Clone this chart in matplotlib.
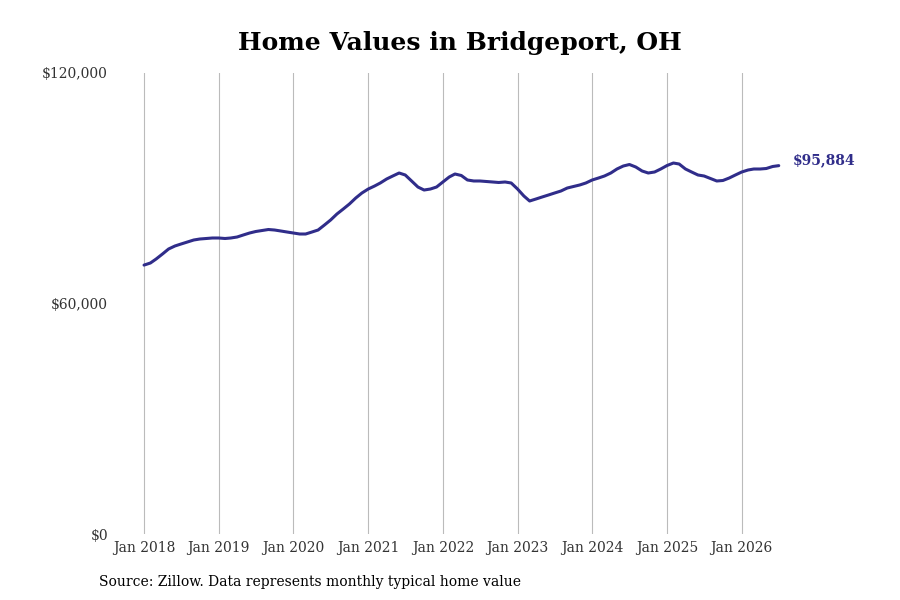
import pandas as pd
import matplotlib.pyplot as plt
import matplotlib.dates as mdates

plt.rcParams['font.family'] = ['DejaVu Serif']

# Monthly typical home value, Jan 2018 - Jul 2026
months = pd.date_range('2018-01-01', '2026-07-01', freq='MS')
values = [
    70000, 70540, 71580, 72880, 74190, 74970, 75490, 76010, 76530, 76790, 76920, 77050,
    77050, 76920, 77050, 77310, 77830, 78350, 78740, 79000, 79260, 79130, 78870, 78610,
    78350, 78090, 78090, 78610, 79130, 80430, 81730, 83300, 84600, 85900, 87460, 88760,
    89800, 90580, 91370, 92410, 93190, 93970, 93450, 91890, 90320, 89540, 89800, 90320,
    91630, 92930, 93710, 93320, 92150, 91890, 91890, 91760, 91630, 91500, 91630, 91370,
    89800, 87980, 86680, 87200, 87720, 88240, 88760, 89280, 90060, 90450, 90850, 91370,
    92150, 92670, 93190, 93970, 95010, 95790, 96180, 95530, 94490, 93970, 94230, 95010,
    95920, 96570, 96310, 95010, 94230, 93450, 93190, 92540, 91890, 92020, 92670, 93450,
    94230, 94750, 95010, 95010, 95140, 95660, 95884,
]
year_ticks = pd.date_range('2018-01-01', '2026-01-01', freq='YS')
y_ticks = [0, 60000, 120000]
title = 'Home Values in Bridgeport, OH'
source = 'Source: Zillow. Data represents monthly typical home value'

line_color = '#302d8a'

fig = plt.figure(figsize=(9, 6), dpi=100)
ax = fig.add_axes([115 / 900, 1 - 534 / 600, 675 / 900, 461 / 600])

ax.plot(months, values, color=line_color, linewidth=2.2, solid_capstyle='round')
ax.annotate(f'${values[-1]:,.0f}', xy=(months[-1], values[-1]),
            xytext=(10, 4), textcoords='offset points',
            va='center', ha='left', fontsize=10, fontweight='bold', color=line_color)

ax.set_ylim(0, 120000)
ax.set_yticks(y_ticks)
ax.set_yticklabels([f'${v:,.0f}' for v in y_ticks])
ax.set_xlim(pd.Timestamp('2017-08-12'), pd.Timestamp('2026-08-25'))
ax.set_xticks(year_ticks)
ax.xaxis.set_major_formatter(mdates.DateFormatter('%b %Y'))

ax.grid(axis='x', color='#bbbbbb', linewidth=0.8)
ax.grid(axis='y', visible=False)
for s in ax.spines.values():
    s.set_visible(False)
ax.tick_params(axis='both', length=0, labelsize=10, colors='#333333')
ax.tick_params(axis='x', pad=5)
ax.tick_params(axis='y', pad=5)

fig.text(460 / 900, 1 - 43 / 600, title, ha='center', va='center', fontsize=18, fontweight='bold')
fig.text(99 / 900, 1 - 582 / 600, source, ha='left', va='center', fontsize=10)

fig.savefig('out.png', dpi=100)
